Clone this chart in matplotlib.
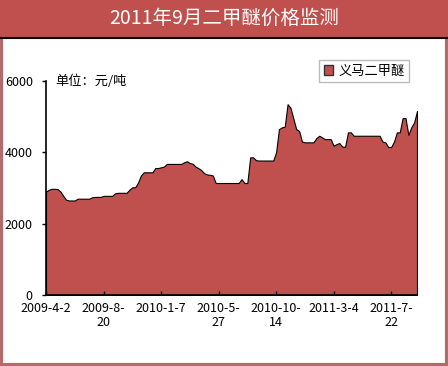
import numpy as np
import matplotlib.pyplot as plt
from matplotlib.patches import Rectangle, Patch

plt.rcParams['font.family'] = ['Noto Sans CJK SC', 'DejaVu Sans']

title = "2011年9月二甲醚价格监测"
series_name = "义马二甲醚"
unit_text = "单位：元/吨"

# weekly price, yuan/ton
prices = [2900, 2950, 2977, 2977, 2970, 2900, 2780, 2670, 2650, 2650,
          2650, 2700, 2700, 2700, 2700, 2700, 2740, 2750, 2750, 2750,
          2780, 2780, 2780, 2780, 2850, 2865, 2865, 2865, 2865, 2950,
          3020, 3020, 3150, 3350, 3440, 3440, 3440, 3440, 3560, 3560,
          3580, 3600, 3675, 3675, 3675, 3675, 3675, 3675, 3720, 3750,
          3700, 3680, 3600, 3555, 3500, 3415, 3380, 3370, 3350, 3140,
          3140, 3140, 3140, 3140, 3140, 3140, 3140, 3140, 3250, 3140,
          3140, 3860, 3860, 3780, 3770, 3770, 3770, 3770, 3770, 3770,
          4000, 4650, 4700, 4720, 5350, 5250, 4950, 4650, 4600, 4300,
          4280, 4280, 4280, 4280, 4400, 4465, 4420, 4370, 4370, 4370,
          4185, 4230, 4260, 4160, 4157, 4560, 4560, 4465, 4465, 4465,
          4465, 4465, 4465, 4465, 4465, 4465, 4465, 4300, 4280, 4150,
          4150, 4300, 4560, 4560, 4960, 4960, 4490, 4700, 4840, 5160]
tick_labels = ["2009-4-2", "2009-8-\n20", "2010-1-7", "2010-5-\n27",
               "2010-10-\n14", "2011-3-4", "2011-7-\n22"]
yticks = [0, 2000, 4000, 6000]

red = '#C0504D'
border = '#B46A6A'

fig = plt.figure(figsize=(4.48, 3.66), dpi=100)
fig.patch.set_facecolor('white')

# frame and title bar
fig.patches.append(Rectangle((0.002, 0.003), 0.995, 0.994, transform=fig.transFigure,
                             facecolor='none', edgecolor=border, lw=3, zorder=-5))
fig.patches.append(Rectangle((0, 1 - 37/366), 1, 37/366, transform=fig.transFigure,
                             facecolor=red, edgecolor='none', zorder=-4))
fig.lines.append(plt.Line2D([0, 1], [1 - 38/366, 1 - 38/366], transform=fig.transFigure,
                            color='black', lw=1.5, zorder=-3))
fig.text(0.5, 1 - 18/366, title, color='white', fontsize=14,
         ha='center', va='center')

ax = fig.add_axes([46/448, 1 - 295/366, 371/448, (295 - 81)/366])
ax.set_facecolor('none')
x = np.arange(len(prices))
ax.fill_between(x, prices, 0, facecolor=red, edgecolor='black', lw=0.8)
ax.set_xlim(0, len(prices) - 1)
ax.set_ylim(0, 6000)

ax.set_yticks(yticks)
ax.set_yticklabels([str(v) for v in yticks], fontsize=9)
ax.set_xticks(range(0, len(prices), 20))
ax.set_xticklabels(tick_labels, fontsize=9, linespacing=1.15)
ax.tick_params(axis='y', direction='out', length=3, width=1, pad=6.5)
ax.tick_params(axis='x', direction='in', length=3, width=1, pad=5)

for s in ['top', 'right']:
    ax.spines[s].set_visible(False)
for s in ['left', 'bottom']:
    ax.spines[s].set_linewidth(1.2)

ax.text(0.025, 1.0, unit_text, transform=ax.transAxes, fontsize=9.5,
        ha='left', va='center')

ax.legend(handles=[Patch(facecolor=red, edgecolor='#333333', label=series_name)],
          loc='upper right', bbox_to_anchor=(409/448, 1 - 60/366),
          bbox_transform=fig.transFigure, fontsize=9.5, frameon=True,
          fancybox=False, edgecolor='#AAAAAA', handlelength=0.7, handleheight=0.7,
          handletextpad=0.4, borderpad=0.35, borderaxespad=0)

fig.savefig('out.png', dpi=100)
